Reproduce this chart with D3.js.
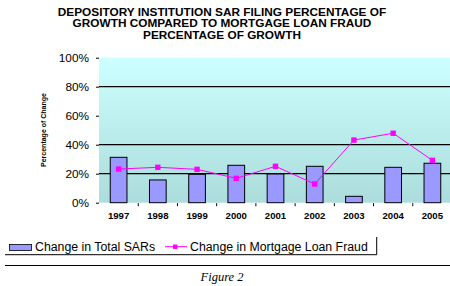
<!DOCTYPE html>
<meta charset="utf-8">
<head>
  <script src="https://cdn.jsdelivr.net/npm/d3@7"></script>
</head>
<style>
  body { margin: 0; background: #fff; }
  svg { display: block; }
  text { font-family: Arial, "Liberation Sans", sans-serif; }
</style>
<body></body>
<script>
  // values
  var years = ["1997", "1998", "1999", "2000", "2001", "2002", "2003", "2004", "2005"];
  var totalSARs = [31.3, 15.7, 19.6, 25.8, 19.8, 25.1, 4.4, 24.4, 27.2];
  var mortgageFraud = [23.2, 24.4, 23.0, 16.8, 25.1, 12.9, 43.2, 47.9, 29.2];
  var yTicks = [0, 20, 40, 60, 80, 100];
  var gridValues = [20, 40, 80];
  var titleLines = ["DEPOSITORY INSTITUTION SAR FILING PERCENTAGE OF",
                    "GROWTH COMPARED TO MORTGAGE LOAN FRAUD",
                    "PERCENTAGE OF GROWTH"];

  var width = 450, height = 286;
  // note: "top" is taken by window.top, so use plot* names
  var plotLeft = 99, plotRight = 452, plotTop = 57.7, plotBottom = 202.7;

  var svg = d3.select("body").append("svg")
      .attr("width", width)
      .attr("height", height);

  var defs = svg.append("defs");
  var grad = defs.append("linearGradient")
      .attr("id", "bg").attr("x1", 0).attr("y1", 0).attr("x2", 0).attr("y2", 1);
  grad.append("stop").attr("offset", "0%").attr("stop-color", "#ccffff");
  grad.append("stop").attr("offset", "100%").attr("stop-color", "#acdcdc");

  var x = d3.scaleBand().domain(years).range([plotLeft, plotRight]);
  var y = d3.scaleLinear().domain([0, 100]).range([plotBottom, plotTop]);

  // title: narrow font stretched wide, like the original
  svg.append("g").selectAll("text")
      .data(titleLines)
    .enter().append("text")
      .attr("x", 222)
      .attr("y", function(d, i) { return 15.6 + i * 11.7; })
      .attr("text-anchor", "middle")
      .style("font-size", "10.1px")
      .style("font-weight", "bold")
      .text(function(d) { return d; })
      .each(function() {
        var w = this.getComputedTextLength();
        d3.select(this).attr("textLength", w * 1.17).attr("lengthAdjust", "spacingAndGlyphs");
      });

  // plot background
  svg.append("rect")
      .attr("x", plotLeft).attr("y", plotTop)
      .attr("width", plotRight - plotLeft).attr("height", plotBottom - plotTop)
      .attr("fill", "url(#bg)");

  // gridlines
  svg.append("g").selectAll("line")
      .data(gridValues)
    .enter().append("line")
      .attr("x1", plotLeft).attr("x2", plotRight)
      .attr("y1", function(d) { return y(d); })
      .attr("y2", function(d) { return y(d); })
      .attr("stroke", "#000")
      .attr("stroke-width", 1.2);

  // y axis
  var yAxis = d3.axisLeft(y)
      .tickValues(yTicks)
      .tickSize(3)
      .tickPadding(7)
      .tickFormat(function(d) { return d + "%"; });
  var gy = svg.append("g")
      .attr("transform", "translate(" + plotLeft + ",0)")
      .call(yAxis);
  gy.select(".domain").remove();
  gy.selectAll("text").style("font-size", "11.8px").attr("fill", "#000");

  // y axis title
  svg.append("text")
      .attr("transform", "translate(45.5,130) rotate(-90)")
      .attr("text-anchor", "middle")
      .style("font-size", "7px")
      .style("font-weight", "bold")
      .text("Percentage of Change");

  // x axis
  var gx = svg.append("g")
      .attr("transform", "translate(0," + plotBottom + ")");
  gx.selectAll("line")
      .data(years.slice(1))
    .enter().append("line")
      .attr("x1", function(d) { return x(d); })
      .attr("x2", function(d) { return x(d); })
      .attr("y1", 0.5).attr("y2", 3.5)
      .attr("stroke", "#000");
  gx.selectAll("text")
      .data(years)
    .enter().append("text")
      .attr("x", function(d) { return x(d) + x.bandwidth() / 2; })
      .attr("y", 16)
      .attr("text-anchor", "middle")
      .style("font-size", "9.6px")
      .style("font-weight", "bold")
      .text(function(d) { return d; });

  // bars
  var barW = 16.7;
  svg.append("g").selectAll("rect")
      .data(totalSARs)
    .enter().append("rect")
      .attr("x", function(d, i) { return x(years[i]) + x.bandwidth() / 2 - barW / 2; })
      .attr("y", function(d) { return y(d); })
      .attr("width", barW)
      .attr("height", function(d) { return plotBottom - y(d); })
      .attr("fill", "#9999ff")
      .attr("stroke", "#000")
      .attr("stroke-width", 1);

  // line
  var line = d3.line()
      .x(function(d, i) { return x(years[i]) + x.bandwidth() / 2; })
      .y(function(d) { return y(d); });
  svg.append("path")
      .datum(mortgageFraud)
      .attr("d", line)
      .attr("fill", "none")
      .attr("stroke", "#ff00ff")
      .attr("stroke-width", 1);
  svg.append("g").selectAll("rect")
      .data(mortgageFraud)
    .enter().append("rect")
      .attr("x", function(d, i) { return x(years[i]) + x.bandwidth() / 2 - 2.7; })
      .attr("y", function(d) { return y(d) - 2.7; })
      .attr("width", 5.4).attr("height", 5.4)
      .attr("fill", "#ff00ff");

  // legend
  var lg = svg.append("g");
  lg.append("path")
      .attr("d", "M5,254.7H376.7V237")
      .attr("fill", "none")
      .attr("stroke", "#000");
  lg.append("rect")
      .attr("x", 9.5).attr("y", 244.5).attr("width", 22).attr("height", 6)
      .attr("fill", "#9999ff").attr("stroke", "#000").attr("stroke-width", 0.8);
  lg.append("text")
      .attr("x", 35).attr("y", 250.7)
      .style("font-size", "12.3px")
      .text("Change in Total SARs");
  lg.append("line")
      .attr("x1", 165).attr("x2", 187).attr("y1", 246.7).attr("y2", 246.7)
      .attr("stroke", "#ff00ff");
  lg.append("rect")
      .attr("x", 173).attr("y", 244.5).attr("width", 4.4).attr("height", 4.4)
      .attr("fill", "#ff00ff");
  lg.append("text")
      .attr("x", 190).attr("y", 250.7)
      .style("font-size", "12.3px")
      .text("Change in Mortgage Loan Fraud");

  // rule and caption
  svg.append("line")
      .attr("x1", 5).attr("x2", 450).attr("y1", 265.5).attr("y2", 265.5)
      .attr("stroke", "#000");
  svg.append("text")
      .attr("x", 222).attr("y", 281)
      .attr("text-anchor", "middle")
      .style("font-family", "'Liberation Serif', 'Times New Roman', serif")
      .style("font-style", "italic")
      .style("font-size", "12.5px")
      .text("Figure 2");
</script>
